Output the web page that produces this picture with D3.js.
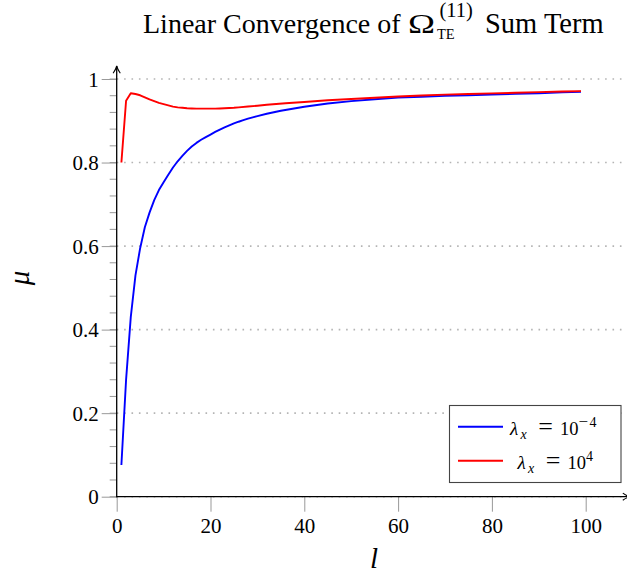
<!DOCTYPE html>
<html>
<head>
<meta charset="utf-8">
<script src="https://cdn.jsdelivr.net/npm/d3@7"></script>
<style>
  html, body { margin: 0; padding: 0; background: #fff; }
  svg { display: block; }
  text { font-family: "Liberation Serif", "DejaVu Serif", serif; fill: #000; }
</style>
</head>
<body>
<svg id="chart" width="627" height="575"></svg>
<script>
// ---- data ----
const lBlue = [1,2,3,4,5,6,7,8,9,10,11,12,13,14,15,16,17,18,19,20,21,22,23,24,25,26,27,28,29,30,32,35,40,45,50,55,60,65,70,75,80,85,90,95,99];
const muBlue = [0.076,0.28,0.43,0.53,0.595,0.645,0.68,0.71,0.734,0.753,0.771,0.788,0.803,0.816,0.828,0.8385,0.847,0.8545,0.861,0.867,0.8733,0.879,0.8843,0.889,0.8936,0.8977,0.9015,0.905,0.9083,0.9113,0.9169,0.924,0.9335,0.9415,0.947,0.9515,0.9555,0.9575,0.9595,0.961,0.9625,0.9643,0.966,0.968,0.9695];
const lRed = [1,2,3,4,5,6,7,8,9,10,11,12,13,14,15,16,17,18,19,20,21,22,23,24,25,26,28,30,32,36,40,45,50,55,60,65,70,75,80,85,90,95,99];
const muRed = [0.80,0.948,0.966,0.964,0.961,0.956,0.951,0.947,0.943,0.940,0.937,0.934,0.932,0.931,0.930,0.9295,0.929,0.929,0.929,0.929,0.929,0.9295,0.930,0.9305,0.931,0.932,0.934,0.936,0.9385,0.942,0.945,0.949,0.952,0.955,0.958,0.9605,0.9625,0.964,0.9655,0.967,0.9685,0.970,0.971];
const xTicks = [0,20,40,60,80,100];
const yTicks = [0,0.2,0.4,0.6,0.8,1];
const yMinor = d3.range(0,1.0001,0.04);
const seriesExp = ["\u22124","4"];

const svg = d3.select("#chart");
const x = d3.scaleLinear().domain([0,100]).range([116.7,585.7]);
const y = d3.scaleLinear().domain([0,1]).range([496.7,79]);
const plotRight = 622;
const FONT = "Liberation Serif";

// grid (dotted)
svg.append("g").selectAll("line").data(yTicks).join("line")
  .attr("x1", x(0)).attr("x2", plotRight)
  .attr("y1", d => y(d)).attr("y2", d => y(d))
  .attr("stroke", "#b4b4b4").attr("stroke-width", 1.6)
  .attr("stroke-dasharray", "1.6,5.8");

// y minor ticks
svg.append("g").selectAll("line").data(yMinor).join("line")
  .attr("x1", x(0) - 7).attr("x2", x(0))
  .attr("y1", d => y(d)).attr("y2", d => y(d))
  .attr("stroke", "#999").attr("stroke-width", 1);

// y axis major ticks + labels
const yAxis = svg.append("g").attr("transform", `translate(${x(0)},0)`)
  .call(d3.axisLeft(y).tickValues(yTicks).tickSize(15).tickPadding(3)
        .tickFormat(d => d === 0 || d === 1 ? d3.format("d")(d) : d3.format(".1f")(d)));
yAxis.attr("font-family", FONT).attr("font-size", 21);
yAxis.select(".domain").remove();
yAxis.selectAll(".tick line").attr("stroke", "#999").attr("stroke-width", 1);
yAxis.selectAll(".tick text").attr("dy", "0.34em").style("font-family", FONT);

// x axis ticks + labels
const xAxis = svg.append("g").attr("transform", `translate(0,${y(0)})`)
  .call(d3.axisBottom(x).tickValues(xTicks).tickSize(15).tickPadding(6));
xAxis.attr("font-family", FONT).attr("font-size", 21);
xAxis.select(".domain").remove();
xAxis.selectAll(".tick line").attr("stroke", "#999").attr("stroke-width", 1);
xAxis.selectAll(".tick text").style("font-family", FONT);

// axis lines with arrows
const defs = svg.append("defs");
defs.append("marker").attr("id", "arr").attr("viewBox", "0 0 10 10")
  .attr("refX", 9).attr("refY", 5).attr("markerWidth", 9).attr("markerHeight", 9)
  .attr("markerUnits", "userSpaceOnUse").attr("orient", "auto")
  .append("path").attr("d", "M1,1 Q5,4 9,5 Q5,6 1,9").attr("fill", "none").attr("stroke", "#000").attr("stroke-width", 1.2);
svg.append("line").attr("x1", x(0)).attr("x2", x(0)).attr("y1", y(0) + 0.6).attr("y2", 66)
  .attr("stroke", "#000").attr("stroke-width", 1.3).attr("marker-end", "url(#arr)");
svg.append("line").attr("x1", x(0) - 0.6).attr("x2", 630).attr("y1", y(0)).attr("y2", y(0))
  .attr("stroke", "#000").attr("stroke-width", 1.3).attr("marker-end", "url(#arr)");

// curves
const line = d3.line().x(d => x(d[0])).y(d => y(d[1]));
svg.append("path").datum(d3.zip(lBlue, muBlue)).attr("d", line)
  .attr("fill", "none").attr("stroke", "#0000ff").attr("stroke-width", 1.9).attr("stroke-linejoin", "round");
svg.append("path").datum(d3.zip(lRed, muRed)).attr("d", line)
  .attr("fill", "none").attr("stroke", "#ff0000").attr("stroke-width", 1.9).attr("stroke-linejoin", "round");

// legend
const lg = svg.append("g");
lg.append("rect").attr("x", 449.5).attr("y", 405.5).attr("width", 171.5).attr("height", 77)
  .attr("fill", "#fff").attr("stroke", "#444").attr("stroke-width", 1.1);
const legendItems = [{c: "#0000ff", exp: seriesExp[0], y: 426.7, tx: 510}, {c: "#ff0000", exp: seriesExp[1], y: 460.7, tx: 517.5}];
legendItems.forEach(it => {
  lg.append("line").attr("x1", 458).attr("x2", 503).attr("y1", it.y).attr("y2", it.y)
    .attr("stroke", it.c).attr("stroke-width", 1.9);
  const b = it.y + 8.3;
  const g = lg.append("g").attr("font-family", FONT);
  g.append("text").attr("x", it.tx).attr("y", b).attr("font-size", 19).attr("font-style", "italic").text("\u03bb");
  g.append("text").attr("x", it.tx + 10.5).attr("y", b + 3.5).attr("font-size", 14).attr("font-style", "italic").text("x");
  g.append("text").attr("x", it.tx + 35.5).attr("y", b - 0.5).attr("font-size", 26).attr("text-anchor", "middle").text("=");
  g.append("text").attr("x", it.tx + 50).attr("y", b).attr("font-size", 18.5).text("10");
  const sup = g.append("text").attr("x", it.tx + 68.5).attr("y", b - 8).attr("font-size", 14);
  if (it.exp.length > 1) {
    sup.append("tspan").attr("font-size", 17).text(it.exp[0]);
    sup.append("tspan").attr("dx", 1.5).text(it.exp.slice(1));
  } else {
    sup.text(it.exp);
  }
});

// title
const tg = svg.append("g").attr("font-family", FONT);
tg.append("text").attr("x", 143).attr("y", 33).attr("font-size", 28).text("Linear Convergence of");
tg.append("text").attr("transform", "translate(408,33) scale(1.3,1)").attr("font-size", 28).text("\u03a9");
tg.append("text").attr("x", 437).attr("y", 38.5).attr("font-size", 14.5).text("TE");
tg.append("text").attr("x", 439.5).attr("y", 17).attr("font-size", 20.5).text("(11)");
tg.append("text").attr("x", 485).attr("y", 33).attr("font-size", 28.5).text("Sum Term");

// axis labels
svg.append("text").attr("x", 374).attr("y", 568).attr("text-anchor", "middle")
  .attr("font-size", 29).attr("font-style", "italic").text("l");
svg.append("text").attr("transform", "translate(29,278) rotate(-90)").attr("text-anchor", "middle")
  .attr("font-size", 29).attr("font-style", "italic").text("\u03bc");
</script>
</body>
</html>
